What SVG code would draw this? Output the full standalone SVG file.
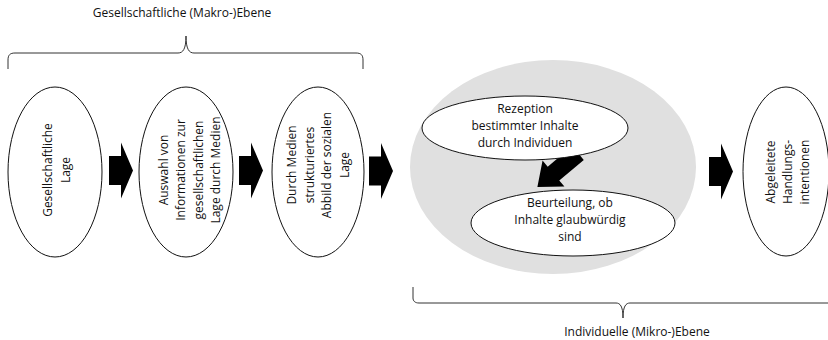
<svg xmlns="http://www.w3.org/2000/svg" width="828" height="340" viewBox="0 0 828 340">
<style>
.t{font-family:"Open Sans","Liberation Sans",sans-serif;font-size:12px;fill:#111;text-anchor:middle}
.e{fill:#fff;stroke:#111;stroke-width:1}
.br{fill:none;stroke:#333;stroke-width:1}
.ar{fill:#000}
</style>
<defs>
<path id="barrow" d="M0,-14.5 H12 V-28 L24,0 L12,28 V14.5 H0 Z"/>
</defs>
<rect width="828" height="340" fill="#fff"/>
<g id="makro-label">
<path class="br" d="M8,69 V60 C8,55 10,53 15,53 H178 C183,53 186,49 186,36 C186,49 189,53 194,53 H356 C361,53 363,55 363,60 V69"/>
<text class="t" x="182" y="17">Gesellschaftliche (Makro-)Ebene</text>
</g>
<g id="mikro-area">
<ellipse cx="553" cy="167" rx="143" ry="107" fill="#e0e0e0"/>
</g>
<g id="connectors">
<use href="#barrow" class="ar" transform="translate(109,170.5)"/>
<use href="#barrow" class="ar" transform="translate(239,170.5)"/>
<use href="#barrow" class="ar" transform="translate(369,171)"/>
<use href="#barrow" class="ar" transform="translate(709,171.5)"/>
<path class="ar" d="M0,-9 H32 V-17 L53,0 L32,17 V9 H0 Z" transform="translate(578,153) rotate(140)"/>
</g>
<g id="n1">
<ellipse class="e" cx="55" cy="172" rx="47" ry="85"/>
<text class="t" transform="translate(55,170) rotate(-90)"><tspan x="0" y="-3">Gesellschaftliche</tspan><tspan x="0" y="15">Lage</tspan></text>
</g>
<g id="n2">
<ellipse class="e" cx="186" cy="172" rx="47" ry="85"/>
<text class="t" transform="translate(188,170) rotate(-90)"><tspan x="0" y="-20">Auswahl von</tspan><tspan x="0" y="-3">Informationen zur</tspan><tspan x="0" y="14.5">gesellschaftlichen</tspan><tspan x="0" y="32">Lage durch Medien</tspan></text>
</g>
<g id="n3">
<ellipse class="e" cx="318" cy="172" rx="46" ry="85"/>
<text class="t" transform="translate(318,165) rotate(-90)"><tspan x="0" y="-22">Durch Medien</tspan><tspan x="0" y="-4.5">strukturiertes</tspan><tspan x="0" y="13">Abbild der sozialen</tspan><tspan x="0" y="30.5">Lage</tspan></text>
</g>
<g id="n4">
<ellipse class="e" cx="525" cy="128" rx="103" ry="32"/>
<text class="t"><tspan x="525" y="113">Rezeption</tspan><tspan x="525" y="130">bestimmter Inhalte</tspan><tspan x="525" y="147">durch Individuen</tspan></text>
</g>
<g id="n5">
<ellipse class="e" cx="573" cy="223" rx="102" ry="33"/>
<text class="t"><tspan x="570" y="207">Beurteilung, ob</tspan><tspan x="570" y="224">Inhalte glaubwürdig</tspan><tspan x="570" y="241">sind</tspan></text>
</g>
<g id="n6">
<ellipse class="e" cx="786" cy="171.5" rx="43" ry="84.5"/>
<text class="t" transform="translate(786,172) rotate(-90)"><tspan x="0" y="-11">Abgeleitete</tspan><tspan x="0" y="5.5">Handlungs-</tspan><tspan x="0" y="22.5">intentionen</tspan></text>
</g>
<g id="mikro-label">
<path class="br" d="M413,287 V298 C413,301 415,303 419,303 H616 C620,303 623,306 623,318 C623,306 626,303 630,303 H830"/>
<text class="t" x="637" y="336">Individuelle (Mikro-)Ebene</text>
</g>
</svg>
